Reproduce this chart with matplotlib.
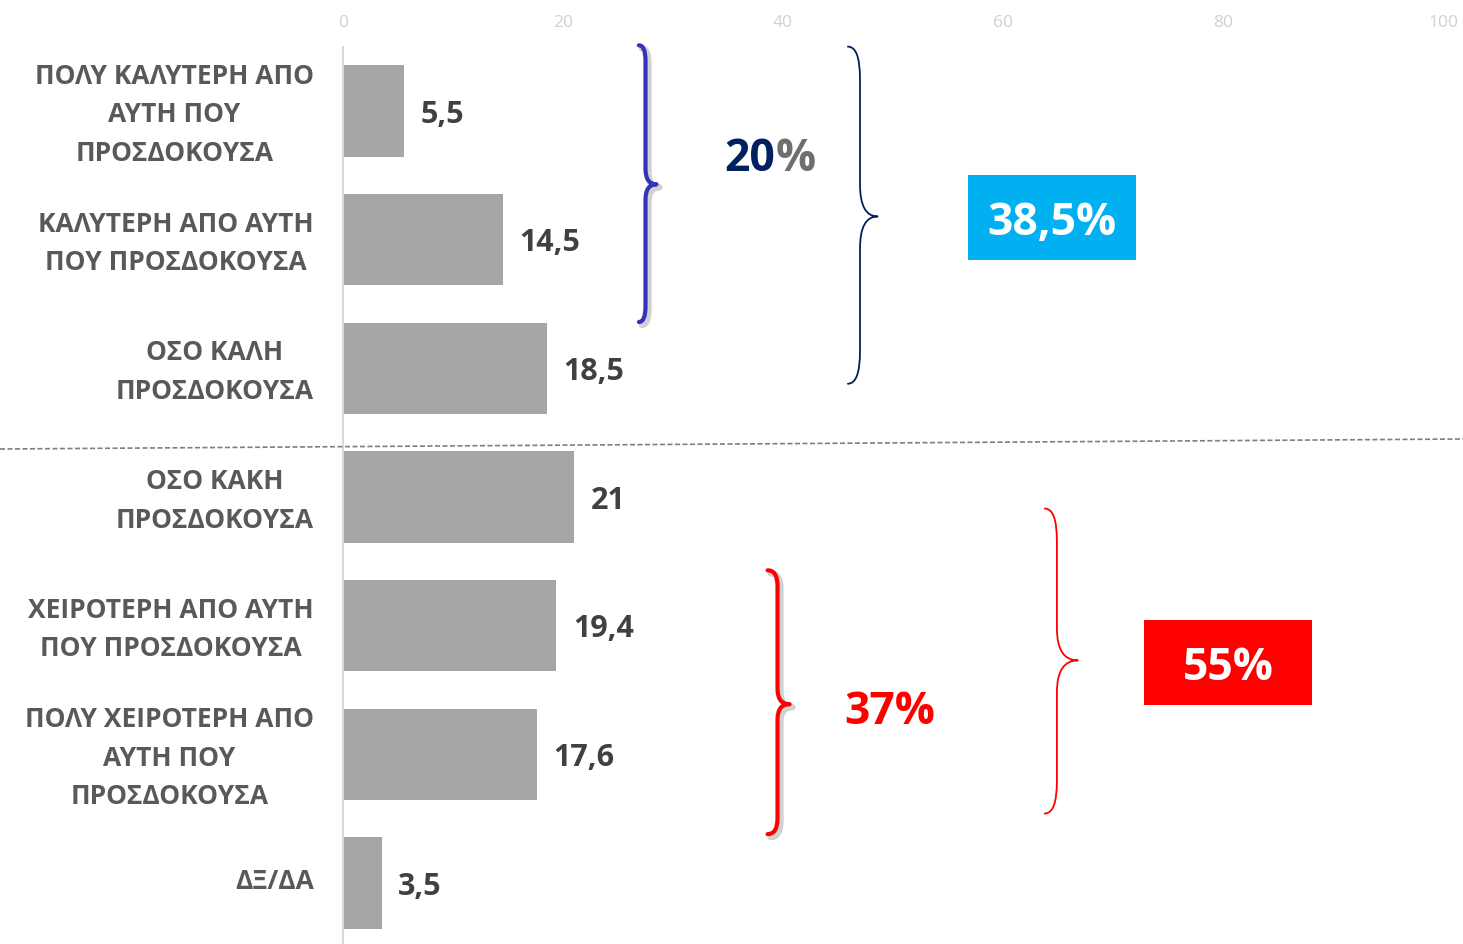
import matplotlib
matplotlib.use("Agg")
import matplotlib.pyplot as plt
from matplotlib.path import Path
from matplotlib.patches import PathPatch, Rectangle
from matplotlib.lines import Line2D
from matplotlib.transforms import offset_copy, ScaledTranslation

plt.rcParams['font.family'] = ['Open Sans', 'DejaVu Sans']

# =========================
# DATA
# =========================
categories = [
    "ΠΟΛΥ ΚΑΛΥΤΕΡΗ ΑΠΟ\nΑΥΤΗ ΠΟΥ\nΠΡΟΣΔΟΚΟΥΣΑ",
    "ΚΑΛΥΤΕΡΗ ΑΠΟ ΑΥΤΗ\nΠΟΥ ΠΡΟΣΔΟΚΟΥΣΑ",
    "ΟΣΟ ΚΑΛΗ\nΠΡΟΣΔΟΚΟΥΣΑ",
    "ΟΣΟ ΚΑΚΗ\nΠΡΟΣΔΟΚΟΥΣΑ",
    "ΧΕΙΡΟΤΕΡΗ ΑΠΟ ΑΥΤΗ\nΠΟΥ ΠΡΟΣΔΟΚΟΥΣΑ",
    "ΠΟΛΥ ΧΕΙΡΟΤΕΡΗ ΑΠΟ\nΑΥΤΗ ΠΟΥ\nΠΡΟΣΔΟΚΟΥΣΑ",
    "ΔΞ/ΔΑ",
]
values = [5.5, 14.5, 18.5, 21, 19.4, 17.6, 3.5]
value_labels = ["5,5", "14,5", "18,5", "21", "19,4", "17,6", "3,5"]
xticks = [0, 20, 40, 60, 80, 100]

better_sum = "20%"
positive_sum = "38,5%"
worse_sum = "37%"
negative_sum = "55%"

GRAY_BAR = "#a6a6a6"
LABEL = "#595959"
VALUE = "#404040"

# =========================
# FIGURE
# =========================
fig = plt.figure(figsize=(14.63, 9.45), dpi=100)
ax = fig.add_axes([343 / 1463, 0.0, 1100 / 1463, 1 - 48 / 945])

y = list(range(len(values)))
ax.barh(y, values, height=0.71, color=GRAY_BAR, zorder=2)

ax.set_xlim(0, 100)
ax.set_ylim(6.474, -0.497)

ax.xaxis.tick_top()
ax.set_xticks(xticks)
ax.set_xticklabels([str(t) for t in xticks], color="#d0d0d0", fontsize=12.5)
ax.tick_params(axis="x", length=0, pad=12)
ax.set_yticks(y)
ax.set_yticklabels(categories, fontsize=19, fontweight="bold", color=LABEL,
                   multialignment="center", linespacing=1.55)
ax.tick_params(axis="y", length=0, pad=21)
# nudge category labels up a little
shift = ScaledTranslation(0, 6 / 100, fig.dpi_scale_trans)
for lab in ax.get_yticklabels():
    lab.set_transform(lab.get_transform() + shift)

for s in ["top", "right", "bottom"]:
    ax.spines[s].set_visible(False)
ax.spines["left"].set_color("#d9d9d9")
ax.spines["left"].set_linewidth(1.5)

for yi, v, lab in zip(y, values, value_labels):
    ax.annotate(lab, (v, yi + 0.02), xytext=(12, 0), textcoords="offset points",
                ha="left", va="center", fontsize=22, fontweight="bold",
                color=VALUE)


# =========================
# BRACES
# =========================
def brace(x_back, x_line, x_tip, y_top, y_bot, y_mid, r, color, lw, shadow=False):
    verts = [
        (x_back, y_top),
        (x_line, y_top), (x_line, y_top + r),
        (x_line, y_mid - r),
        (x_line, y_mid), (x_tip, y_mid),
        (x_line, y_mid), (x_line, y_mid + r),
        (x_line, y_bot - r),
        (x_line, y_bot), (x_back, y_bot),
    ]
    codes = [Path.MOVETO,
             Path.CURVE3, Path.CURVE3,
             Path.LINETO,
             Path.CURVE3, Path.CURVE3,
             Path.CURVE3, Path.CURVE3,
             Path.LINETO,
             Path.CURVE3, Path.CURVE3]
    path = Path(verts, codes)
    if shadow:
        sh = PathPatch(path, fill=False, edgecolor="#000000", alpha=0.18,
                       lw=lw + 1.5, capstyle="round", joinstyle="round",
                       clip_on=False, zorder=2.9,
                       transform=offset_copy(ax.transData, fig, x=3, y=-3,
                                             units="dots"))
        ax.add_patch(sh)
    p = PathPatch(path, fill=False, edgecolor=color, lw=lw,
                  capstyle="round", joinstyle="round", clip_on=False, zorder=3)
    ax.add_patch(p)


brace(26.9, 27.5, 28.5, -0.51, 1.64, 0.57, 0.12, "#3333bb", 3, shadow=True)
brace(45.9, 47.0, 48.6, -0.50, 2.12, 0.82, 0.25, "#002060", 1.3)
brace(38.6, 39.5, 40.6, 3.57, 5.62, 4.61, 0.12, "#ff0000", 3, shadow=True)
brace(63.8, 64.9, 66.8, 3.09, 5.46, 4.27, 0.25, "#ff0000", 1.3)

# sums
ax.text(39.3, 0.37, better_sum[:-1], ha="right", va="center", fontsize=32,
        fontweight="bold", color="#002060")
ax.text(39.3, 0.37, better_sum[-1], ha="left", va="center", fontsize=32,
        fontweight="bold", color="#6f6f6f")
ax.text(49.7, 4.67, worse_sum, ha="center", va="center", fontsize=32,
        fontweight="bold", color="#ff0000")

ax.add_patch(Rectangle((56.8, (176 - 112) / 128.67), 15.3, 85 / 128.67,
                       facecolor="#00b0f0", edgecolor="none", clip_on=False))
ax.text(64.45, (224 - 112) / 128.67, positive_sum, ha="center", va="center",
        fontsize=32, fontweight="bold", color="white")

ax.add_patch(Rectangle((72.8, (621 - 112) / 128.67), 15.3, 85 / 128.67,
                       facecolor="#ff0000", edgecolor="none", clip_on=False))
ax.text(80.45, (669 - 112) / 128.67, negative_sum, ha="center", va="center",
        fontsize=32, fontweight="bold", color="white")

# divider between positive and negative answers
fig.add_artist(Line2D([0, 1], [1 - 450 / 945, 1 - 440 / 945],
                      transform=fig.transFigure, color="#7f7f7f",
                      lw=1.2, ls=(0, (3, 1.5))))

fig.savefig("out.png", dpi=100)
